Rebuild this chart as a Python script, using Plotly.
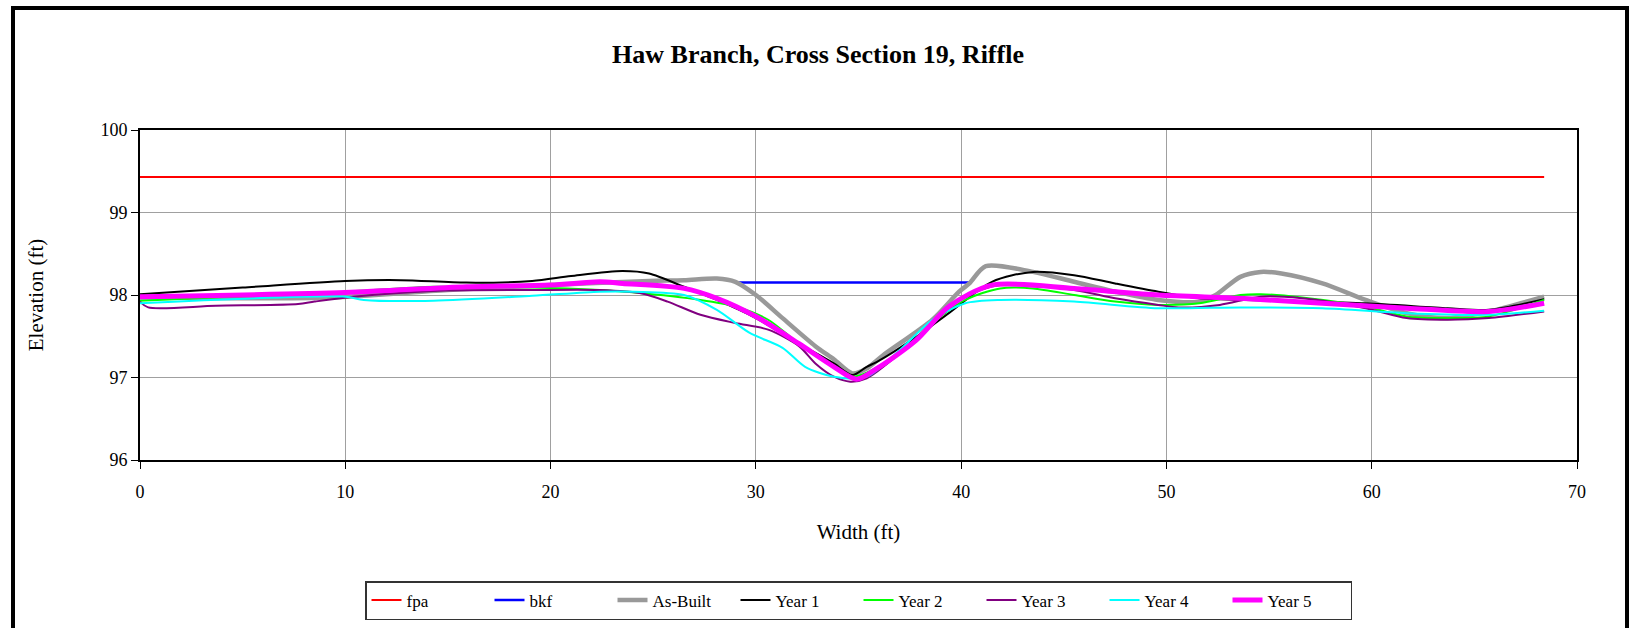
import plotly.graph_objects as go

# Cross-section survey: station (ft) vs. elevation (ft)
fpa_x = [0, 68.4]
fpa_y = [99.43, 99.43]

bkf_x = [29.1, 40.5]
bkf_y = [98.15, 98.15]

asbuilt_x = [0, 5, 9.4, 15, 20, 24.8, 26.5, 28.1, 29.0, 30.0, 31.3, 32.9, 33.8, 34.7, 35.4,
             36.2, 38.6, 39.9, 40.4, 41.2, 43.5, 45.5, 47.5, 49.6, 51.6, 52.4, 53.6, 54.6,
             55.6, 57.6, 59.7, 61.7, 63.7, 65.7, 68.4]
asbuilt_y = [97.97, 97.96, 97.97, 98.06, 98.12, 98.17, 98.18, 98.20, 98.16, 98.00, 97.72,
             97.38, 97.22, 97.05, 97.11, 97.27, 97.70, 98.04, 98.14, 98.35, 98.28, 98.16,
             98.04, 97.94, 97.92, 98.00, 98.22, 98.28, 98.26, 98.14, 97.94, 97.78, 97.72,
             97.80, 97.98]

year1_x = [0, 5, 10, 12.7, 15.9, 19.1, 21, 23.5, 24.8, 26.5, 28.1, 30.0, 32.1, 33.8, 34.7,
           35.4, 35.9, 37.8, 39.4, 41.5, 43.5, 45.5, 47.5, 49.6, 51.6, 55.6, 59.7, 63.7,
           65.7, 68.4]
year1_y = [98.01, 98.09, 98.17, 98.18, 98.15, 98.17, 98.23, 98.29, 98.26, 98.10, 97.94,
           97.72, 97.41, 97.17, 97.03, 97.13, 97.19, 97.49, 97.78, 98.16, 98.28, 98.24,
           98.14, 98.04, 97.96, 97.93, 97.90, 97.84, 97.82, 97.95]

year2_x = [0, 10, 14.3, 19.1, 22.4, 24.1, 27.3, 29.0, 30.6, 32.1, 33.8, 34.7, 35.4, 37.0,
           38.6, 40.2, 41.9, 43.5, 45.5, 47.5, 49.6, 51.6, 53.6, 54.6, 56.6, 59.7, 61.7,
           63.7, 65.7, 68.4]
year2_y = [97.93, 98.04, 98.10, 98.09, 98.06, 98.03, 97.94, 97.86, 97.70, 97.41, 97.13,
           97.01, 97.06, 97.29, 97.66, 97.94, 98.08, 98.08, 98.00, 97.92, 97.88, 97.90,
           98.00, 98.01, 97.97, 97.86, 97.74, 97.72, 97.74, 97.94]

year3_x = [0, 0.4, 3.7, 7.7, 8.5, 10.4, 14.3, 19.1, 22.4, 24.4, 25.7, 27.3, 29.0, 30.6,
           32.1, 32.9, 33.8, 34.6, 35.4, 37.0, 38.6, 40.2, 41.9, 45.5, 47.5, 49.6, 50.6,
           52.6, 54.6, 56.6, 59.7, 61.7, 63.7, 65.7, 68.4]
year3_y = [97.92, 97.85, 97.87, 97.89, 97.92, 97.98, 98.05, 98.06, 98.06, 98.02, 97.92,
           97.76, 97.66, 97.58, 97.38, 97.17, 97.01, 96.95, 96.99, 97.29, 97.66, 97.98,
           98.12, 98.06, 97.96, 97.88, 97.85, 97.88, 97.98, 97.96, 97.84, 97.72, 97.70,
           97.72, 97.80]

year4_x = [0, 10, 10.9, 14.3, 19.1, 22.4, 24.1, 26.5, 28.1, 29.7, 31.3, 32.4, 33.8, 35.4,
           37.0, 38.6, 40.2, 41.9, 45.5, 49.6, 53.6, 57.6, 61.7, 65.7, 68.4]
year4_y = [97.90, 97.98, 97.94, 97.93, 97.99, 98.04, 98.04, 98.00, 97.82, 97.54, 97.36,
           97.13, 97.01, 97.01, 97.33, 97.70, 97.90, 97.94, 97.92, 97.84, 97.85, 97.84,
           97.78, 97.76, 97.81]

year5_x = [0, 10, 15.9, 20, 22.4, 23.5, 26.5, 28.1, 30, 32.1, 33.8, 34.9, 35.9, 37.8, 39.4,
           41.5, 45.5, 49.6, 53.6, 57.6, 61.7, 65.7, 68.4]
year5_y = [97.98, 98.03, 98.10, 98.12, 98.16, 98.14, 98.08, 97.96, 97.74, 97.41, 97.13,
           96.98, 97.11, 97.45, 97.86, 98.12, 98.08, 98.00, 97.96, 97.90, 97.84, 97.80,
           97.90]

FONT = "Liberation Serif"

series = [
    ("fpa", fpa_x, fpa_y, "#FF0000", 2, "linear"),
    ("bkf", bkf_x, bkf_y, "#0000FF", 2.5, "linear"),
    ("As-Built", asbuilt_x, asbuilt_y, "#999999", 4.5, "spline"),
    ("Year 1", year1_x, year1_y, "#000000", 2, "spline"),
    ("Year 2", year2_x, year2_y, "#00FF00", 2, "spline"),
    ("Year 3", year3_x, year3_y, "#800080", 2, "spline"),
    ("Year 4", year4_x, year4_y, "#00FFFF", 2, "spline"),
    ("Year 5", year5_x, year5_y, "#FF00FF", 5, "spline"),
]

fig = go.Figure()
for name, xs, ys, color, width, shape in series:
    line = dict(color=color, width=width, shape=shape)
    if shape == "spline":
        line["smoothing"] = 0.8
    fig.add_trace(go.Scatter(x=xs, y=ys, mode="lines", name=name, line=line))

W, H = 1629, 628
L, R, T, B = 140, 52, 130, 168
pw, ph = W - L - R, H - T - B


def px_to_paper_x(px):
    return (px - L) / pw


def px_to_paper_y(py):
    return (H - B - py) / ph


# outer chart frame
fig.add_shape(type="rect", xref="paper", yref="paper",
              x0=px_to_paper_x(13), x1=px_to_paper_x(1627),
              y0=px_to_paper_y(660), y1=px_to_paper_y(8),
              line=dict(color="black", width=4), fillcolor="rgba(0,0,0,0)", layer="above")

fig.update_layout(
    width=W, height=H,
    margin=dict(l=L, r=R, t=T, b=B, autoexpand=False),
    paper_bgcolor="white", plot_bgcolor="white",
    font=dict(family=FONT, color="black", size=18),
    title=dict(text="<b>Haw Branch, Cross Section 19, Riffle</b>",
               x=818 / W, xref="container", xanchor="center",
               y=1 - 54 / H, yref="container", yanchor="middle",
               font=dict(family=FONT, size=26, color="black")),
    showlegend=True,
    legend=dict(orientation="h", x=0.5, xanchor="center",
                y=1 - 581 / H, yref="container", yanchor="top",
                bordercolor="#333333", borderwidth=1.5,
                entrywidth=78, entrywidthmode="pixels",
                font=dict(family=FONT, size=17, color="black"),
                bgcolor="white", traceorder="normal"),
)

fig.update_xaxes(
    range=[0, 70], dtick=10, tick0=0,
    showgrid=True, gridcolor="#A0A0A0", gridwidth=1,
    showline=True, linecolor="black", linewidth=2, mirror=True,
    ticks="outside", ticklen=7, tickcolor="black", ticklabelstandoff=7,
    zeroline=False, automargin=False,
    title=dict(text="Width (ft)", standoff=24, font=dict(family=FONT, size=21)),
)
fig.update_yaxes(
    range=[96, 100], dtick=1, tick0=96,
    showgrid=True, gridcolor="#A0A0A0", gridwidth=1,
    showline=True, linecolor="black", linewidth=2, mirror=True,
    ticks="outside", ticklen=7, tickcolor="black",
    zeroline=False, automargin=False,
    title=dict(text="Elevation (ft)", standoff=51, font=dict(family=FONT, size=21)),
)

fig.write_html("out.html")
